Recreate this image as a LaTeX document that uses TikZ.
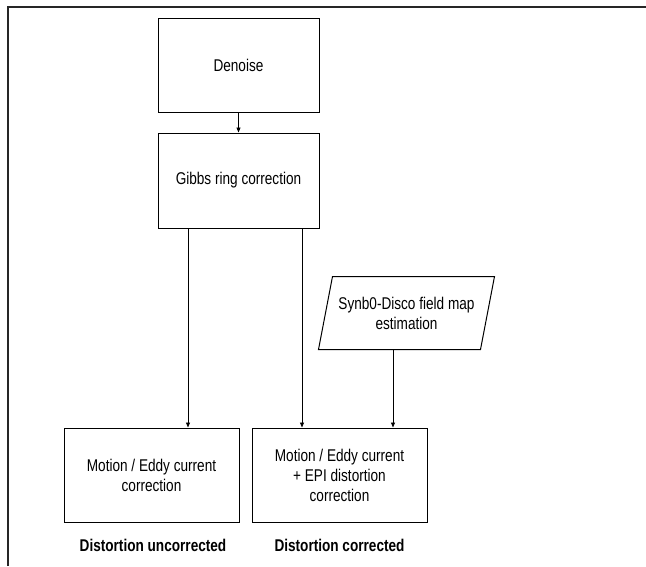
\documentclass[tikz,border=0pt]{standalone}
\usepackage{fontspec}
\setmainfont{Liberation Sans}[FakeStretch=0.8]
\usetikzlibrary{arrows.meta}

\begin{document}
\begin{tikzpicture}[x=1pt, y=-1pt,
        box/.style={draw, line width=1pt, align=center, inner sep=0pt,
                    font=\fontsize{17}{20}\selectfont},
        arr/.style={-{Triangle[length=5pt, width=4pt]}, line width=0.9pt},
        tag/.style={font=\fontsize{17}{20}\selectfont\bfseries}]
                \useasboundingbox (0, 0) rectangle (646, 566);
                \draw [line width=1.5pt, black!85] (8, 566) -- (8, 7) -- (646, 7);
                \node [box, minimum width=161, minimum height=94] (denoise) at (238.5, 65) {Denoise};
                \node [box, minimum width=161, minimum height=95] (gibbs) at (238.5, 180.5) {Gibbs ring correction};
                \node [box, minimum width=175, minimum height=94] (motion) at (151.5, 475) {Motion / Eddy current\\correction};
                \node [box, minimum width=175, minimum height=94] (epi) at (339.5, 475) {Motion / Eddy current\\+ EPI distortion\\correction};
                \node [box, draw=none, minimum width=161, minimum height=72] (synb) at (406.5, 313) {Synb0-Disco field map\\estimation};
                \draw [line width=1pt] ([xshift=7pt]synb.north west) -- ([xshift=7pt]synb.north east) -- ([xshift=-7pt]synb.south east) -- ([xshift=-7pt]synb.south west) -- cycle;
                \draw [arr] (denoise) -- (gibbs);
                \draw [arr] ([xshift=-50.5pt]gibbs.south) -- ([xshift=36.5pt]motion.north);
                \draw [arr] ([xshift=63.5pt]gibbs.south) -- ([xshift=-37.5pt]epi.north);
                \draw [arr] ([xshift=-13.5pt]synb.south) -- ([xshift=53.5pt]epi.north);
                \node [tag] (uncorr) at (153, 545) {Distortion uncorrected};
                \node [tag] (corr) at (339.5, 545) {Distortion corrected};
            \end{tikzpicture}
\end{document}
